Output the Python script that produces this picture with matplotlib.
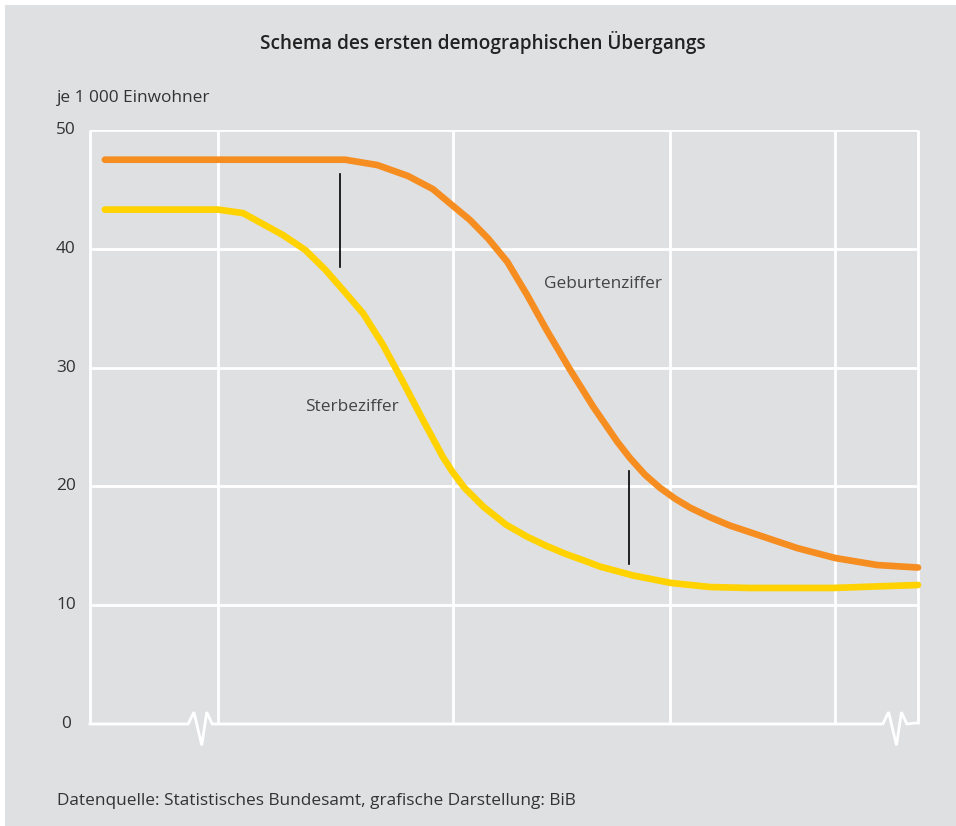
import matplotlib
matplotlib.use("Agg")
import matplotlib.pyplot as plt
from matplotlib.patches import Rectangle

# ---- data (x on a 0..100 schematic time scale, y per 1 000 inhabitants) ----
birth_x = [1.8, 30.8, 34.7, 38.4, 41.4, 43.7, 45.9, 48.1, 50.4, 52.8, 55.2,
           58.0, 60.8, 63.7, 65.2, 67.0, 68.8, 70.7, 72.5, 74.9, 77.3, 80.1,
           85.4, 90.0, 95.1, 100.0]
birth_y = [47.5, 47.5, 47.05, 46.13, 45.03, 43.69, 42.42, 40.85, 38.9, 36.1, 33.1,
           29.8, 26.68, 23.74, 22.4, 21.0, 19.9, 18.95, 18.2, 17.4, 16.7, 16.05,
           14.81, 13.97, 13.38, 13.17]

death_x = [1.8, 15.5, 18.5, 23.3, 26.0, 28.4, 30.6, 33.0, 35.4, 37.8, 40.2,
           42.6, 43.7, 45.2, 47.5, 50.2, 52.7, 55.1, 57.5, 59.9, 61.6, 65.6,
           70.2, 74.9, 79.7, 89.7, 100.0]
death_y = [43.3, 43.3, 43.0, 41.16, 39.9, 38.25, 36.5, 34.55, 31.9, 28.8, 25.6,
           22.5, 21.3, 19.9, 18.3, 16.8, 15.8, 15.0, 14.3, 13.7, 13.25, 12.5,
           11.87, 11.53, 11.45, 11.45, 11.7]

# gap markers (vertical black lines)
gap_x = [30.2, 65.1]
gap_y0 = [38.5, 13.5]
gap_y1 = [46.3, 21.3]

y_ticks = [0, 10, 20, 30, 40, 50]
x_grid = [0, 15.46, 43.84, 70.05, 89.98, 100]
x_breaks = [13.3, 97.2]

labels = {"Sterbeziffer": (31.6, 26.7), "Geburtenziffer": (62.0, 37.0)}

title = "Schema des ersten demographischen Übergangs"
unit_label = "je 1 000 Einwohner"
source = "Datenquelle: Statistisches Bundesamt, grafische Darstellung: BiB"

# ---- styling ----
BG = "#dfe0e2"
ORANGE = "#f68d20"
YELLOW = "#ffd200"
TXT = "#333333"
FONT = ["Open Sans", "DejaVu Sans"]
plt.rcParams["font.family"] = FONT
FS = 12.4

W, H = 956, 826
fig = plt.figure(figsize=(W / 100, H / 100), dpi=100)
fig.patch.set_facecolor("white")
fig.patches.append(Rectangle((5 / W, 0), 1, (H - 5) / H, transform=fig.transFigure,
                             facecolor=BG, edgecolor="none", zorder=-10))

ax = fig.add_axes([90 / W, 102 / H, 828 / W, 594 / H])
ax.set_facecolor("none")
ax.set_xlim(0, 100)
ax.set_ylim(0, 50)
for s in ax.spines.values():
    s.set_visible(False)
ax.set_xticks([])
ax.set_yticks([])

GW = 2.0
for yv in y_ticks[1:]:
    ax.plot([0, 100], [yv, yv], color="white", lw=GW, zorder=1, solid_capstyle="butt")
for xv in x_grid:
    ax.plot([xv, xv], [0, 50], color="white", lw=GW, zorder=1, solid_capstyle="butt",
            clip_on=False)

# bottom baseline with zig-zag breaks (offsets in data units)
zx = [-1.45, -0.75, 0.2, 0.8, 1.45]
zy = [0, 1.0, -1.8, 1.0, 0]
bx, by = [0], [0]
for b in x_breaks:
    for dx, dy in zip(zx, zy):
        bx.append(b + dx)
        by.append(dy)
bx.append(100)
by.append(0.1)
ax.plot(bx, by, color="white", lw=GW, zorder=1, clip_on=False, solid_joinstyle="miter")

ax.plot(birth_x, birth_y, color=ORANGE, lw=4.8, solid_capstyle="round",
        solid_joinstyle="round", zorder=3, clip_on=False)
ax.plot(death_x, death_y, color=YELLOW, lw=4.8, solid_capstyle="round",
        solid_joinstyle="round", zorder=3, clip_on=False)

for gx, g0, g1 in zip(gap_x, gap_y0, gap_y1):
    ax.plot([gx, gx], [g0, g1], color="black", lw=1.2, zorder=4)

for t, (lx, ly) in labels.items():
    ax.text(lx, ly, t, ha="center", va="center", fontsize=FS, color="#444444")

# y tick labels
for yv in y_ticks:
    ax.text(-24 / 828 * 100, yv, str(yv), ha="center", va="center",
            fontsize=FS, color=TXT)

fig.text(483 / W, 1 - 43 / H, title, ha="center", va="center", fontsize=13.7,
         fontweight="semibold", color="#222222")
fig.text(57 / W, 1 - 98 / H, unit_label, ha="left", va="center", fontsize=FS,
         color=TXT)
fig.text(57 / W, 1 - 801 / H, source, ha="left", va="center", fontsize=FS,
         color=TXT)

fig.savefig("out.png", dpi=100, facecolor="white")
